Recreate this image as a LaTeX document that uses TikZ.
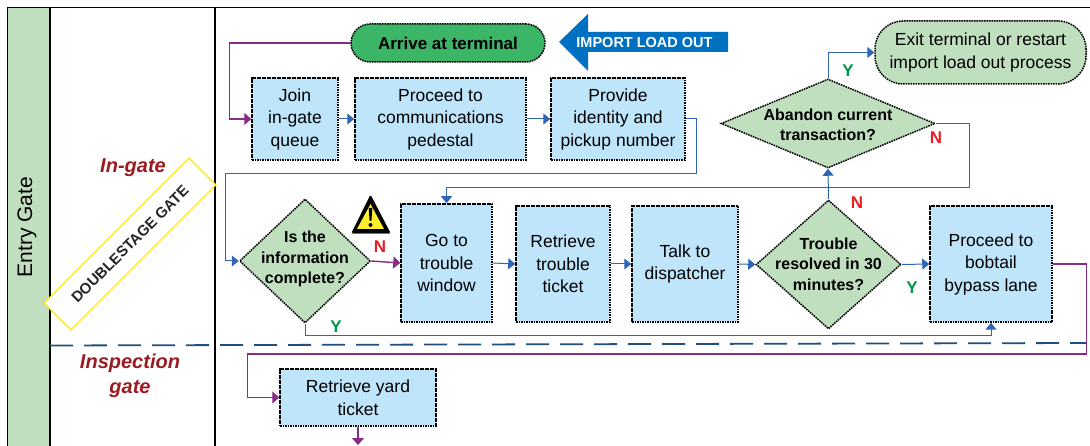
\documentclass[tikz,border=0pt]{standalone}
\usepackage{fontspec}
\setmainfont{Liberation Sans}
\usetikzlibrary{arrows.meta,shapes.geometric}
\definecolor{boxblue}{HTML}{BEE5FA}
\definecolor{lanegreen}{HTML}{BFDFBF}
\definecolor{startgreen}{HTML}{3BB566}
\definecolor{wireblue}{HTML}{2F65B5}
\definecolor{wirepurple}{HTML}{8A2A87}
\definecolor{dashblue}{HTML}{1F4E7F}
\definecolor{importblue}{HTML}{0070C0}
\definecolor{gatered}{HTML}{9B1C20}
\definecolor{markred}{HTML}{ED1C24}
\definecolor{markgreen}{HTML}{00934A}
\definecolor{warnyellow}{HTML}{FFED2F}
\tikzset{
	border/.style={draw=black, line width=1.5pt, dash pattern=on 1.6pt off 0.9pt},
	process/.style={border, fill=boxblue, inner sep=0pt, align=center, font=\fontsize{17.5}{22.5}\selectfont},
	terminal/.style={process, fill=lanegreen},
	decision/.style={border, fill=lanegreen, diamond, inner sep=0pt},
	question/.style={align=center, inner sep=0pt, font=\fontsize{16}{20.5}\selectfont\bfseries},
	bluewire/.style={wireblue, line width=1pt, -{Triangle[length=7pt,width=11pt]}},
	purplewire/.style={wirepurple, line width=1.4pt, -{Triangle[length=7pt,width=12pt]}},
	markn/.style={text=markred, font=\fontsize{17}{17}\selectfont\bfseries, inner sep=0pt},
	marky/.style={text=markgreen, font=\fontsize{17}{17}\selectfont\bfseries, inner sep=0pt},
	gatename/.style={text=gatered, align=center, font=\fontsize{20}{25}\selectfont\bfseries\itshape, inner sep=0pt},
}

\begin{document}
\begin{tikzpicture}[x=1pt,y=-1pt]
	%%%%% START %%%%%
	\useasboundingbox (0, 0) rectangle (1090, 446);
	
	\fill[lanegreen] (7.5, 7.5) rectangle (50, 446);
	\draw[line width=1.2pt] (7.5, 446) -- (7.5, 7.5) -- (1090, 7.5);
	\draw[line width=1.2pt] (50, 7.5) -- (50, 446);
	\draw[line width=1.2pt] (215, 7.5) -- (215, 446);
	\node[rotate=90, inner sep=0pt, font=\fontsize{21}{21}\selectfont] (lane) at (27, 227) {Entry Gate};
	
	\draw[dashblue, line width=1.8pt, dash pattern=on 23pt off 11pt] (50, 345.5) -- (1086, 343);
	
	\node[gatename] (ingate) at (133, 168) {In-gate};
	\node[gatename] (inspection) at (130, 375.5) {Inspection\\gate};
	\node[draw=yellow!90!orange, fill=white, line width=1.2pt, rotate=45, minimum width=205, minimum height=38, inner sep=0pt, font=\fontsize{15}{15}\selectfont\bfseries, text=black!85] (double) at (130, 244) {DOUBLESTAGE GATE};
	
	% top row
	\node[process, fill=startgreen, rounded corners=19, minimum width=194, minimum height=38, font=\fontsize{17}{17}\selectfont\bfseries] (arrive) at (448, 43) {Arrive at terminal};
	\fill[importblue] (559, 42) -- (588, 14) -- (588, 32) -- (728, 32) -- (728, 52) -- (588, 52) -- (588, 71) -- cycle;
	\node[text=white, inner sep=0pt, font=\fontsize{14.5}{14.5}\selectfont\bfseries] (import) at (644.5, 43) {IMPORT LOAD OUT};
	\node[process, minimum width=86, minimum height=82] (join) at (295, 119) {Join\\in-gate\\queue};
	\node[process, minimum width=171, minimum height=82] (pedestal) at (440.5, 119) {Proceed to\\communications\\pedestal};
	\node[process, minimum width=134, minimum height=82] (identity) at (618, 119) {Provide\\identity and\\pickup number};
	\node[terminal, rounded corners=28, minimum width=211, minimum height=63] (exit) at (980.5, 52.5) {Exit terminal or restart\\import load out process};
	\node[decision, aspect=2.4, minimum width=214, minimum height=89] (abandon) at (828, 123.5) {};
	\node[question] (abandontext) at (828, 125) {Abandon current\\transaction?};
	
	% middle row
	\node[decision, aspect=1.05, minimum width=131, minimum height=124] (info) at (305, 261) {};
	\node[question] (infotext) at (305, 259) {Is the\\information\\complete?};
	\node[process, minimum width=91, minimum height=118] (window) at (446.5, 263) {Go to\\trouble\\window};
	\node[process, minimum width=94, minimum height=116] (ticket) at (563, 264) {Retrieve\\trouble\\ticket};
	\node[process, minimum width=106, minimum height=116] (dispatcher) at (685, 264) {Talk to\\dispatcher};
	\node[decision, aspect=1.12, minimum width=145, minimum height=129] (resolved) at (828.5, 264.5) {};
	\node[question] (resolvedtext) at (828.5, 264) {Trouble\\resolved in 30\\minutes?};
	\node[process, minimum width=122, minimum height=116] (bobtail) at (991, 264) {Proceed to\\bobtail\\bypass lane};
	
	% bottom row
	\node[process, minimum width=156, minimum height=57] (yard) at (358, 397.5) {Retrieve yard\\ticket};
	\coordinate (yardout) at (358, 445);
	
	% warning sign
	\fill[black!55] (352, 231) -- (390, 231) -- (390, 234.5) -- (352, 234.5) -- cycle;
	\fill[black, rounded corners=1.5pt] (370.5, 194.5) -- (390.5, 233) -- (351.5, 233) -- cycle;
	\fill[warnyellow] (370.5, 204) -- (384, 229) -- (357, 229) -- cycle;
	\fill[black] (368.7, 208) -- (372.3, 208) -- (371.4, 221) -- (369.6, 221) -- cycle;
	\fill[black] (370.5, 225) circle (2);
	
	% connectors
	\draw[purplewire] (arrive.west) -- ++(-121, 0) |- (join.west);
	\draw[bluewire] (join.east) -- (pedestal.west);
	\draw[bluewire] (pedestal.east) -- (identity.west);
	\draw[bluewire] (identity.east) -- ++(11, 0) -- ++(0, 55) -- ++(-471, 0) |- (info.west);
	\draw[purplewire] (info.east) -- (window.west);
	\draw[bluewire] (info.south) -- ++(0, 12) -| (bobtail.south);
	\draw[bluewire] (window.east) -- (ticket.west);
	\draw[bluewire] (ticket.east) -- (dispatcher.west);
	\draw[bluewire] (dispatcher.east) -- (resolved.west);
	\draw[bluewire] (resolved.east) -- (bobtail.west);
	\draw[bluewire] (resolved.north) -- (abandon.south);
	\draw[bluewire] (abandon.north) |- (exit.west);
	\draw[bluewire] (abandon.east) -- ++(34, 0) -- ++(0, 64) -| (window.north);
	\draw[purplewire] (bobtail.east) -- ++(34, 0) -- ++(0, 90) -- ++(-839, 0) |- (yard.west);
	\draw[purplewire] (yard.south) -- (yardout);
	
	% branch marks
	\node[markn] (noabandon) at (936, 138) {N};
	\node[marky] (yesabandon) at (848, 71) {Y};
	\node[markn] (noresolved) at (857, 203) {N};
	\node[marky] (yesresolved) at (912, 288) {Y};
	\node[markn] (noinfo) at (380, 247) {N};
	\node[marky] (yesinfo) at (336, 327) {Y};
	%%%%% END %%%%%
\end{tikzpicture}
\end{document}
